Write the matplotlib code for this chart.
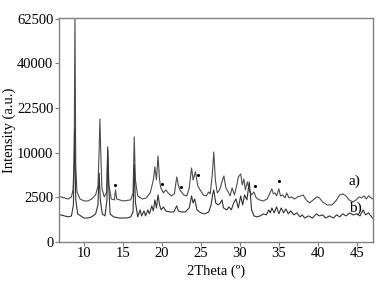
import numpy as np
import matplotlib
matplotlib.use("Agg")
import matplotlib.pyplot as plt

plt.rcParams['font.family'] = ['Liberation Serif', 'DejaVu Serif']

# trace a) - upper pattern (2Theta, intensity)
a_2theta = [7.0, 7.5, 8.0, 8.4, 8.6, 8.75, 8.85, 8.95, 9.1, 9.5, 10.0, 10.5, 11.0, 11.5,
            11.8, 11.95, 12.05, 12.15, 12.3, 12.6, 12.9, 13.05, 13.2, 13.5, 13.9, 14.05,
            14.2, 15.0, 16.0, 16.3, 16.45, 16.6, 16.9, 17.5, 18.0, 18.5, 18.9, 19.1, 19.3,
            19.5, 19.7, 19.85, 20.0, 20.2, 20.5, 20.8, 21.2, 21.6, 21.9, 22.1, 22.3, 22.5,
            22.8, 23.2, 23.5, 23.8, 24.0, 24.3, 24.6, 24.9, 25.3, 25.7, 26.0, 26.2, 26.45,
            26.65, 26.85, 27.1, 27.4, 27.7, 27.95, 28.2, 28.5, 28.75, 29.0, 29.3, 29.6,
            29.8, 30.1, 30.3, 30.5, 30.7, 30.95, 31.2, 31.5, 31.8, 32.1, 32.5, 33.0, 33.5,
            33.8, 34.1, 34.3, 34.5, 34.7, 35.0, 35.2, 35.5, 35.8, 36.0, 36.3, 36.6, 37.0,
            37.4, 37.8, 38.1, 38.5, 38.9, 39.4, 39.9, 40.2, 40.6, 41.2, 41.8, 42.3, 42.8,
            43.2, 43.6, 44.0, 44.5, 44.9, 45.3, 45.6, 45.9, 46.2, 46.5, 47.0]
a_int = [2550, 2430, 2320, 2550, 3400, 8450, 66000, 7450, 3140, 2320, 2110, 2110, 2320, 2780,
         3940, 10640, 19000, 10640, 3670, 2550, 3020, 10640, 4080, 2320, 2220, 3400,
         2320, 2110, 2220, 3020, 13860, 4830, 2660, 2320, 2430, 3020, 4830, 7070, 4830,
         9300, 4830, 3670, 3400, 3020, 3400, 3020, 2660, 2900, 5310, 4080, 3400, 3140,
         2780, 2660, 3670, 6880, 4830, 6160, 3940, 3400, 2780, 2660, 3140, 2900, 5640,
         10180, 4830, 3020, 3400, 4530, 5480, 3670, 3140, 2660, 3670, 2780, 4080,
         5310, 5810, 4080, 4990, 3400, 4530, 3400, 2780, 3140, 2430, 2220, 2110, 2320,
         2900, 3530, 2900, 3020, 2660, 3530, 2660, 2780, 2430, 3020, 2430, 2550, 2320,
         2550, 2660, 2780, 2220, 1910, 2220, 2550, 2430, 2010, 1720, 1720, 2110, 2780,
         2900, 2660, 2220, 2010, 2220, 2550, 2430, 2660, 2320, 2660, 2320]

# trace b) - lower pattern (2Theta, intensity)
b_2theta = [7.0, 7.5, 8.0, 8.4, 8.65, 8.8, 8.95, 9.2, 9.6, 10.0, 10.5, 11.0, 11.5, 11.8,
            11.95, 12.1, 12.35, 12.7, 12.95, 13.05, 13.15, 13.35, 13.8, 14.5, 15.5, 16.0,
            16.3, 16.45, 16.6, 16.9, 17.2, 17.4, 17.7, 17.9, 18.2, 18.4, 18.7, 18.9, 19.1,
            19.3, 19.5, 19.7, 19.9, 20.2, 20.5, 21.0, 21.5, 21.9, 22.1, 22.5, 23.0, 23.5,
            23.8, 24.0, 24.2, 24.5, 25.0, 25.5, 26.0, 26.3, 26.5, 26.65, 26.9, 27.2, 27.5,
            27.7, 27.9, 28.3, 28.6, 28.9, 29.2, 29.5, 29.8, 30.1, 30.35, 30.6, 30.9, 31.2,
            31.5, 31.8, 32.2, 32.6, 33.0, 33.4, 33.7, 33.9, 34.1, 34.4, 34.7, 35.0, 35.3,
            35.6, 35.9, 36.2, 36.5, 36.9, 37.3, 37.7, 38.0, 38.3, 38.8, 39.3, 39.8, 40.2,
            40.6, 41.0, 41.5, 42.0, 42.4, 42.8, 43.2, 43.6, 44.1, 44.5, 45.0, 45.4, 45.8,
            46.1, 46.5, 47.0]
b_int = [920, 850, 790, 850, 1720, 16000, 2220, 990, 850, 720, 720, 790, 990, 1720,
         5980, 2220, 990, 850, 2220, 11340, 4830, 990, 790, 720, 720, 790,
         1130, 7450, 2000, 790, 1290, 850, 1210, 850, 1290, 990, 1630, 1210, 2220,
         1450, 2780, 1720, 1290, 1540, 1210, 1130, 1130, 1630, 1210, 1130, 1130, 1450,
         2660, 1910, 2320, 1290, 1060, 990, 1130, 1720, 2780, 3400, 1910, 1720, 1910,
         2220, 1450, 1290, 1540, 1290, 1910, 2320, 1450, 2660, 1720, 2780, 2220, 4530,
         1290, 850, 790, 850, 990, 920, 1290, 1060, 1450, 1060, 1540, 990, 1450,
         1060, 1370, 990, 1210, 920, 1060, 790, 920, 720, 850, 720, 990, 850,
         920, 720, 850, 720, 920, 790, 990, 850, 1060, 920, 990, 850, 1290,
         920, 1060, 720]

# marked reflections on trace a)
dot_2theta = [14.0, 20.0, 22.4, 24.6, 31.9, 35.0]
dot_int = [4080, 4230, 3800, 5640, 3940, 4680]

yticks = [0, 2500, 10000, 22500, 40000, 62500]
xticks = [10, 15, 20, 25, 30, 35, 40, 45]

fig = plt.figure(figsize=(3.88, 2.81), dpi=100)
ax = fig.add_axes([0.152, 0.139, 0.809, 0.797])

ax.set_yscale('function', functions=(lambda y: np.sqrt(np.clip(y, 0, None)),
                                     lambda y: np.asarray(y) ** 2))

ax.plot(a_2theta, a_int, color='#4d4d4d', lw=0.8)
ax.plot(b_2theta, b_int, color='#333333', lw=0.8)
ax.plot(dot_2theta, dot_int, 'o', color='black', ms=1.2, ls='none')

ax.text(44.75, 4600, 'a)', fontsize=11, ha='center', va='center')
ax.text(44.75, 1450, 'b)', fontsize=11, ha='center', va='center')

ax.set_xlim(6.8, 47.05)
ax.set_ylim(0, 63000)
ax.set_xticks(xticks)
ax.set_yticks(yticks)
ax.set_yticklabels([str(t) for t in yticks])
ax.tick_params(labelsize=10.5, direction='out', length=3, color='#808080', pad=1)

for s in ax.spines.values():
    s.set_color('#808080')
    s.set_linewidth(1.0)

ax.set_xlabel('2Theta (º)', fontsize=10.5, labelpad=3)
ax.set_ylabel('Intensity (a.u.)', fontsize=10.5, labelpad=1)

fig.savefig('out.png', dpi=100)
